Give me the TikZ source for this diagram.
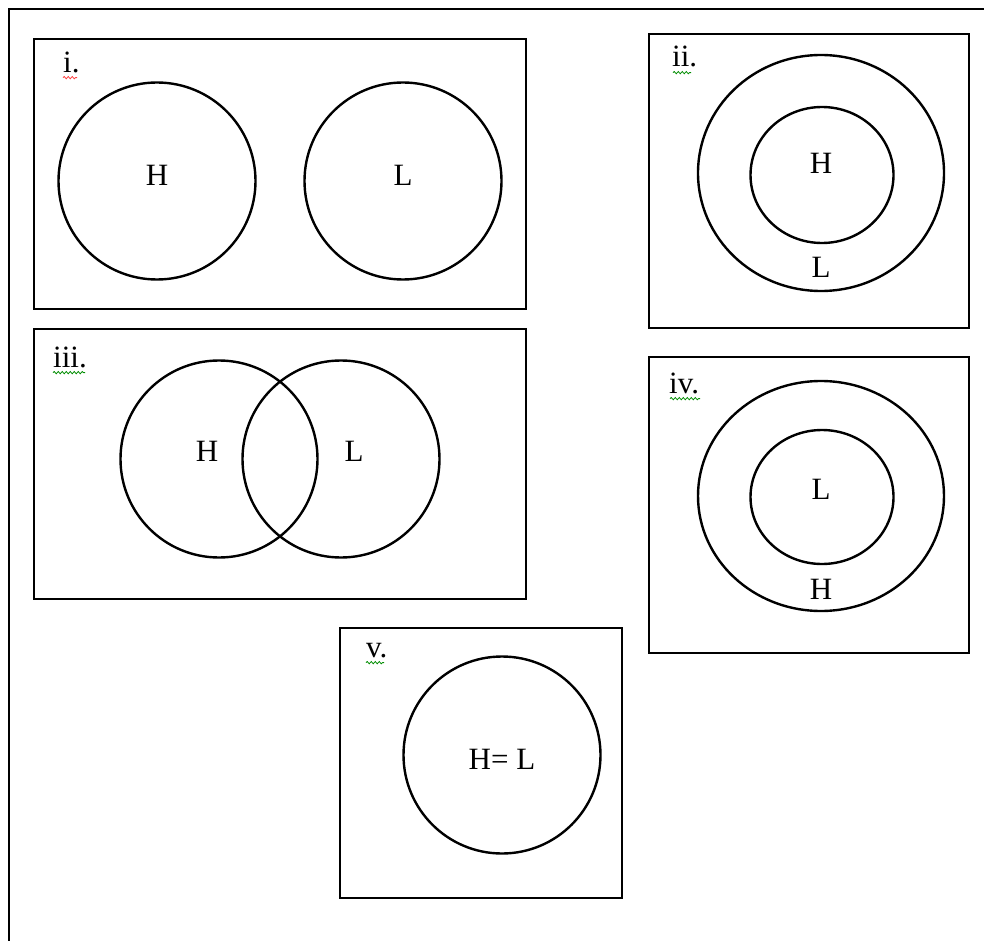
\documentclass[tikz,border=0pt]{standalone}
\usepackage{fontspec}
\setmainfont{Liberation Serif}
\usetikzlibrary{decorations.pathmorphing}

\begin{document}
\begin{tikzpicture}[
    x=1pt, y=-1pt,
    font=\fontsize{31}{34}\selectfont,
    panel/.style={draw, line width=2.8pt},
    ring/.style={draw, line width=2.4pt},
    tag/.style={inner sep=0pt, anchor=base west},
    lbl/.style={inner sep=0pt},
    squig/.style={decorate, decoration={snake, amplitude=1.1pt, segment length=4pt}, line width=0.8pt}
]
\useasboundingbox (0,0) rectangle (984,941);
% outer frame (only left and top show)
\draw[line width=2.4pt] (9,960) -- (9,9) -- (1000,9);

% i. disjoint
\draw[panel] (34,39) rectangle (526,309);
\draw[ring] (157,181) circle (98.5);
\draw[ring] (403,181) circle (98.5);
\node[tag] (tagi) at (63,73) {i.};
\draw[squig, red!75] (tagi.south west) ++(0,4) -- ++(14,0);
\node[lbl] (hi) at (157,175) {H};
\node[lbl] (li) at (403,175) {L};

% ii. H inside L
\draw[panel] (649,34) rectangle (969,328);
\draw[ring] (821,173) ellipse (123 and 118);
\draw[ring] (822,175) ellipse (71.5 and 68);
\node[tag] (tagii) at (672,67) {ii.};
\draw[squig, green!55!black] (tagii.south west) ++(1,5) -- ++(18,0);
\node[lbl] (hii) at (821,163) {H};
\node[lbl] (lii) at (821,267) {L};

% iii. overlap
\draw[panel] (34,329) rectangle (526,599);
\draw[ring] (219,459) circle (98.5);
\draw[ring] (341,459) circle (98.5);
\node[tag] (tagiii) at (53,367) {iii.};
\draw[squig, green!55!black] (tagiii.south west) ++(0,5) -- ++(32,0);
\node[lbl] (hiii) at (207,451) {H};
\node[lbl] (liii) at (354,451) {L};

% iv. L inside H
\draw[panel] (649,357) rectangle (969,653);
\draw[ring] (821,496) ellipse (123 and 115);
\draw[ring] (822,497) ellipse (71.5 and 67);
\node[tag] (tagiv) at (669,393) {iv.};
\draw[squig, green!55!black] (tagiv.south west) ++(1,5) -- ++(30,0);
\node[lbl] (liv) at (821,489) {L};
\node[lbl] (hiv) at (821,589) {H};

% v. equal
\draw[panel] (340,628) rectangle (622,898);
\draw[ring] (502,755) circle (98.5);
\node[tag] (tagv) at (366,657) {v.};
\draw[squig, green!55!black] (tagv.south west) ++(0,5) -- ++(18,0);
\node[lbl] (hv) at (502,759) {H= L};
\end{tikzpicture}
\end{document}
